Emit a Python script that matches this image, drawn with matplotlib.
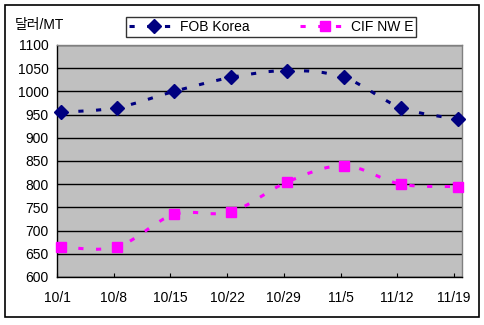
import numpy as np
import matplotlib
matplotlib.use("Agg")
import matplotlib.pyplot as plt
from matplotlib.path import Path
from matplotlib.patches import PathPatch, Rectangle
from matplotlib.lines import Line2D

# data
dates = ["10/1", "10/8", "10/15", "10/22", "10/29", "11/5", "11/12", "11/19"]
day_offset = [0, 7, 14, 21, 28, 35, 42, 49]
fob_korea = [955, 965, 1000, 1030, 1045, 1030, 965, 940]
cif_nwe = [665, 665, 735, 740, 805, 840, 800, 795]

NAVY = "#000080"
PINK = "#FF00FF"

plt.rcParams["font.family"] = ["Liberation Sans", "Noto Sans CJK KR"]
plt.rcParams["font.size"] = 10


def smooth_path(xs, ys):
    # Catmull-Rom style bezier through the points (like Excel "smoothed line")
    pts = np.column_stack([xs, ys]).astype(float)
    n = len(pts)
    verts = [pts[0]]
    codes = [Path.MOVETO]
    for i in range(n - 1):
        p0 = pts[i - 1] if i > 0 else pts[i]
        p1 = pts[i]
        p2 = pts[i + 1]
        p3 = pts[i + 2] if i + 2 < n else pts[i + 1]
        c1 = p1 + (p2 - p0) / 6.0
        c2 = p2 - (p3 - p1) / 6.0
        verts += [c1, c2, p2]
        codes += [Path.CURVE4] * 3
    return Path(verts, codes)


fig = plt.figure(figsize=(4.85, 3.25), dpi=100)
ax = fig.add_axes([57 / 485, 1 - 277 / 325, 405 / 485, 232 / 325])
ax.set_facecolor("#C0C0C0")

x = np.array(day_offset) + 0.45
lw = 2.2
dash = (1.7, 4.1)
for ys, col, mk, ms in [(fob_korea, NAVY, "D", 7.3), (cif_nwe, PINK, "s", 7.5)]:
    patch = PathPatch(smooth_path(x, ys), facecolor="none", edgecolor=col,
                      lw=lw, linestyle=(0, dash), capstyle="butt", zorder=3)
    ax.add_patch(patch)
    ax.plot(x, ys, linestyle="none", marker=mk, markersize=ms,
            color=col, markeredgecolor=col, zorder=4, clip_on=False)

ax.set_xlim(0, 50)
ax.set_ylim(600, 1100)
ax.set_yticks(np.arange(600, 1101, 50))
ax.set_xticks(day_offset)
ax.set_xticklabels(dates)
ax.tick_params(axis="x", direction="in", length=3, width=0.8, pad=10)
ax.tick_params(axis="y", length=0, pad=6)
ax.yaxis.grid(True, color="black", lw=1)
ax.set_axisbelow(True)

for side in ("top", "right"):
    ax.spines[side].set_color("#808080")
for side in ("left", "bottom"):
    ax.spines[side].set_color("black")
for s in ax.spines.values():
    s.set_linewidth(1)

fig.text(15 / 485, 1 - 25 / 325, "달러/MT", ha="left", va="center", fontsize=10)

handles = [
    Line2D([], [], color=NAVY, lw=lw, linestyle=(0, dash), marker="D",
           markersize=7.3, label="FOB Korea"),
    Line2D([], [], color=PINK, lw=lw, linestyle=(0, dash), marker="s",
           markersize=7.5, label="CIF NW E"),
]
leg = fig.legend(handles=handles, loc="center", ncol=2,
                 bbox_to_anchor=(271 / 485, 1 - 27 / 325),
                 frameon=True, fancybox=False, edgecolor="black",
                 handlelength=3.6, handletextpad=0.1, columnspacing=3.6,
                 borderpad=0.2, borderaxespad=0, fontsize=10)
leg.get_frame().set_linewidth(1)

fig.patches.append(Rectangle((5 / 485, 8 / 325), 474 / 485, 312 / 325,
                             transform=fig.transFigure, fill=False,
                             edgecolor="black", lw=1.2))

fig.savefig("out.png", dpi=100)
